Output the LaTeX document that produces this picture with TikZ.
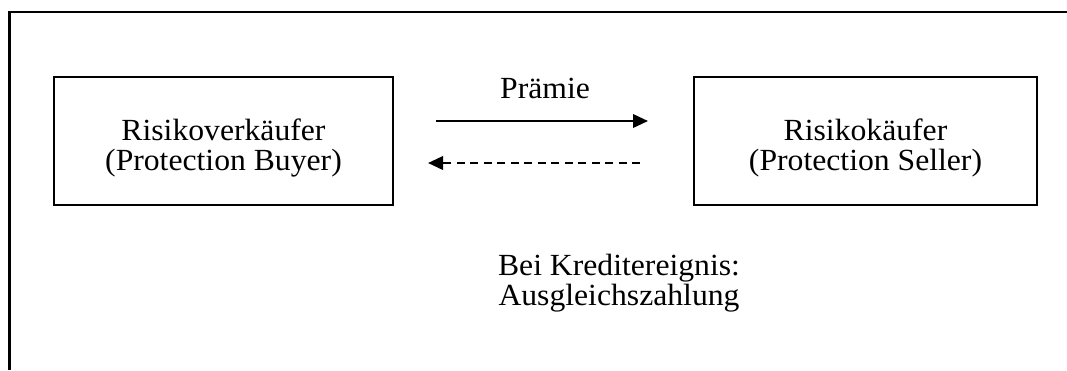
\documentclass[tikz,border=0pt]{standalone}
\usepackage{fontspec}
\setmainfont{Liberation Serif}[FakeStretch=1.03]
\usetikzlibrary{arrows.meta}
\tikzset{
    boite/.style={draw, line width=1.2pt, minimum height=2.56cm, inner sep=0pt},
    fleche/.style={line width=1.2pt, -{Triangle[length=0.3cm, width=0.27cm]}},
    texte/.style={align=center, inner sep=0pt}
}
\begin{document}
\begin{tikzpicture}[x=0.02cm, y=-0.02cm,
    every node/.style={font=\fontsize{17.5}{17}\selectfont}]
    \useasboundingbox (0,0) rectangle (1067,370);
    % Cadre (seulement le haut et la gauche)
    \draw[line width=1.3pt] (1067,12) -- (9.5,12) -- (9.5,370);
    % Les deux parties
    \node[boite, minimum width=6.78cm] (acheteur) at (223.5,141) {};
    \node[boite, minimum width=6.86cm] (vendeur) at (865.5,141) {};
    \node[texte] (nomacheteur) at ([yshift=-0.14cm]acheteur.center)
        {Risikoverkäufer\\(Protection Buyer)};
    \node[texte] (nomvendeur) at ([yshift=-0.14cm]vendeur.center)
        {Risikokäufer\\(Protection Seller)};
    % Extrémités des flèches
    \coordinate (p1) at (436,121);
    \coordinate (p2) at (648,121);
    \coordinate (z1) at (640,163);
    \coordinate (z2) at (428,163);
    % Prime (trait plein) et paiement compensatoire (pointillés)
    \draw[fleche] (p1) -- (p2);
    \draw[fleche, dash pattern=on 0.16cm off 0.11cm] (z1) -- (z2);
    \node[texte] (prime) at (545,88) {Prämie};
    \node[texte] (evenement) at (619,283) {Bei Kreditereignis:\\Ausgleichszahlung};
\end{tikzpicture}
\end{document}
